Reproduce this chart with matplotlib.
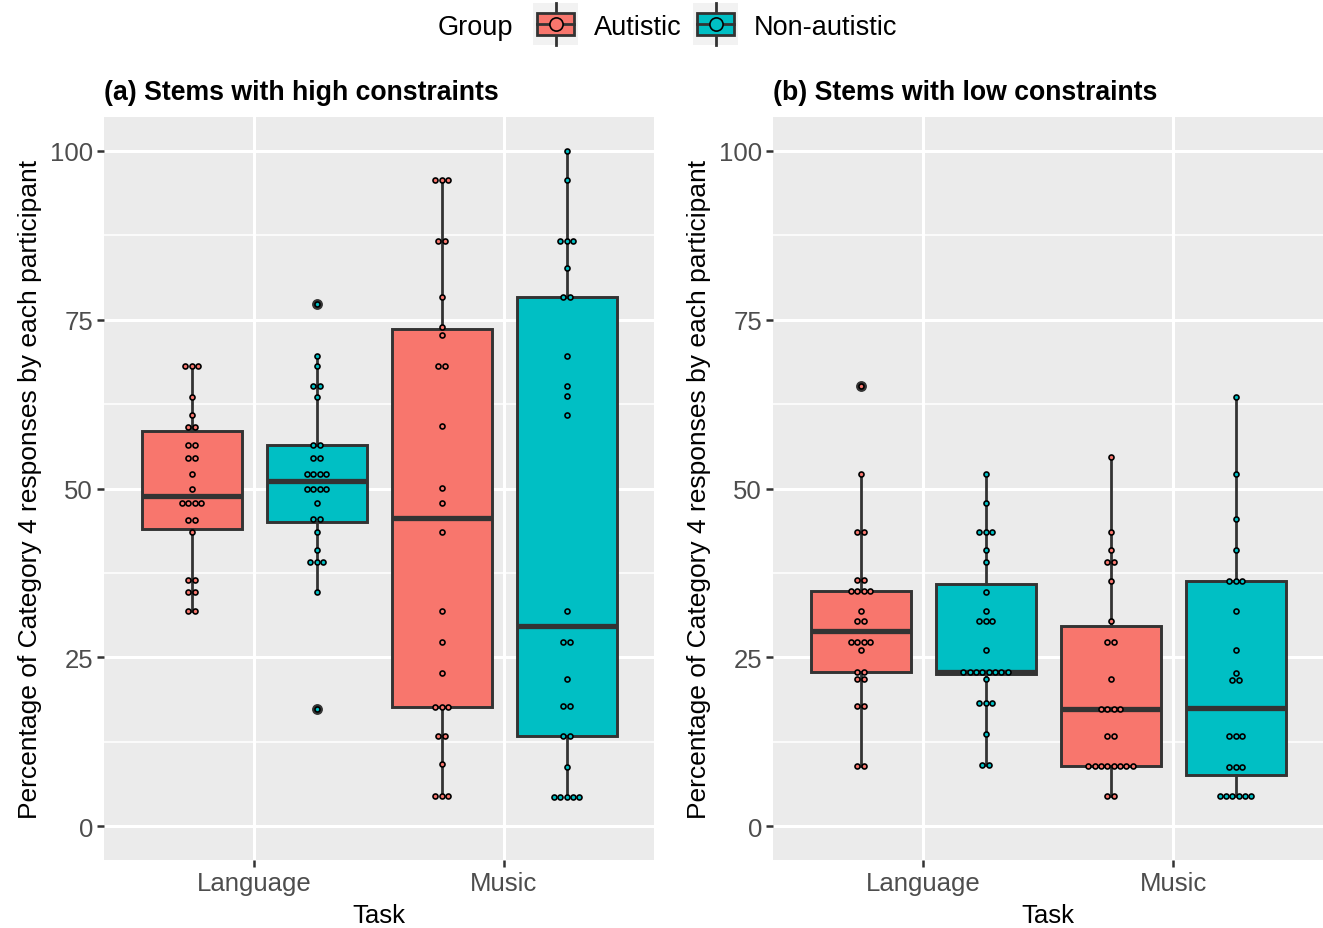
import numpy as np
import matplotlib
matplotlib.use("Agg")
import matplotlib.pyplot as plt
from matplotlib.patches import Rectangle

plt.rcParams["font.family"] = ["Liberation Sans", "DejaVu Sans"]

tasks = ["Language", "Music"]
groups = ["Autistic", "Non-autistic"]
group_colors = ["#F8766D", "#00BFC4"]
panel_titles = ["(a) Stems with high constraints", "(b) Stems with low constraints"]
y_label = "Percentage of Category 4 responses by each participant"

# per-participant percentages
high_lang_aut = [68.2, 68.2, 68.2, 63.6, 60.9, 59.1, 59.1, 56.5, 56.5, 54.5, 54.5, 52.2, 50.0,
                 47.9, 47.9, 47.9, 47.9, 45.4, 45.4, 43.5, 36.4, 36.4, 34.7, 34.7, 31.8, 31.8]
high_lang_non = [77.3, 69.6, 68.1, 65.2, 65.2, 63.6, 56.5, 56.5, 54.5, 54.5, 52.2, 52.2, 52.2, 52.2,
                 50.0, 50.0, 50.0, 50.0, 47.8, 45.5, 45.5, 43.5, 40.9, 39.1, 39.1, 39.1, 34.7, 17.4]
high_mus_aut = [95.6, 95.6, 95.6, 86.6, 86.6, 78.3, 73.9, 72.7, 68.2, 68.2, 59.2, 50.1, 47.9,
                43.5, 31.8, 27.3, 22.7, 17.6, 17.6, 17.6, 13.4, 13.4, 9.2, 4.5, 4.5, 4.5]
high_mus_non = [100.0, 95.7, 86.7, 86.7, 86.7, 82.6, 78.3, 78.3, 69.6, 65.2, 63.7, 60.9, 31.9,
                27.3, 27.3, 21.8, 17.8, 17.8, 13.3, 13.3, 8.7, 4.4, 4.4, 4.4, 4.4, 4.4]

low_lang_aut = [65.2, 52.2, 43.5, 43.5, 36.4, 36.4, 34.8, 34.8, 34.8, 34.8, 31.9, 30.4, 30.4,
                27.3, 27.3, 27.3, 27.3, 26.1, 22.8, 22.8, 21.8, 21.8, 17.8, 17.8, 8.9, 8.9]
low_lang_non = [52.2, 47.9, 43.5, 43.5, 43.5, 40.9, 39.1, 34.7, 31.9, 30.4, 30.4, 30.4, 26.1,
                22.8, 22.8, 22.8, 22.8, 22.8, 22.8, 22.8, 22.8, 21.8, 18.2, 18.2, 18.2, 13.6, 9.1, 9.1]
low_mus_aut = [54.6, 43.5, 40.9, 39.1, 39.1, 36.3, 30.4, 27.3, 27.3, 21.8, 17.4, 17.4, 17.4,
               17.4, 13.4, 13.4, 8.9, 8.9, 8.9, 8.9, 8.9, 8.9, 8.9, 8.9, 4.5, 4.5]
low_mus_non = [63.6, 52.1, 45.5, 40.9, 36.3, 36.3, 36.3, 31.9, 26.1, 22.7, 21.7, 21.7,
               13.3, 13.3, 13.3, 8.7, 8.7, 8.7, 4.5, 4.5, 4.5, 4.5, 4.5, 4.5]

panel_data = [
    {"Language": [high_lang_aut, high_lang_non], "Music": [high_mus_aut, high_mus_non]},
    {"Language": [low_lang_aut, low_lang_non], "Music": [low_mus_aut, low_mus_non]},
]

W, H = 1323, 929
fig = plt.figure(figsize=(W / 100, H / 100), dpi=100)


def px_axes(l, t, r, b, **kw):
    return fig.add_axes([l / W, 1 - b / H, (r - l) / W, (b - t) / H], **kw)


EDGE = "#333333"
DOT_D = 0.0255   # dot diameter in x data units (250 px per category)
FS = 18.5

panels = [px_axes(104, 118, 654, 861), px_axes(773, 118, 1323, 861)]

for ax, title, data in zip(panels, panel_titles, panel_data):
    ax.set_facecolor("#EBEBEB")
    for ti, task in enumerate(tasks):
        for gi, vals in enumerate(data[task]):
            pos = ti + 1 + (gi - 0.5) * 0.5
            ax.boxplot([vals], positions=[pos], widths=0.4, patch_artist=True,
                       showcaps=False, whis=1.5, manage_ticks=False, zorder=3,
                       boxprops=dict(facecolor=group_colors[gi], edgecolor=EDGE, linewidth=2.1),
                       medianprops=dict(color=EDGE, linewidth=3.8, solid_capstyle="butt"),
                       whiskerprops=dict(color=EDGE, linewidth=2.0),
                       flierprops=dict(marker="o", markerfacecolor=EDGE, markeredgecolor=EDGE,
                                       markersize=6.8))
            # centred dot stacks (geom_dotplot style)
            uniq, counts = np.unique(vals, return_counts=True)
            xs, ys = [], []
            for v, c in zip(uniq, counts):
                for k in range(c):
                    xs.append(pos + (k - (c - 1) / 2) * DOT_D)
                    ys.append(v)
            ax.plot(xs, ys, "o", ls="none", ms=3.6, mfc=group_colors[gi], mec="black",
                    mew=1.2, zorder=5)

    ax.set_xlim(0.4, 2.6)
    ax.set_ylim(-5, 105)
    ax.set_xticks([1, 2])
    ax.set_xticklabels(tasks)
    ax.set_yticks([0, 25, 50, 75, 100])
    ax.set_yticks([12.5, 37.5, 62.5, 87.5], minor=True)
    ax.set_axisbelow(True)
    ax.grid(which="major", color="white", linewidth=2.2)
    ax.grid(which="minor", axis="y", color="white", linewidth=1.1)
    for s in ax.spines.values():
        s.set_visible(False)
    ax.tick_params(which="major", length=5, width=1.8, color=EDGE, labelsize=FS,
                   labelcolor="#4D4D4D", pad=3)
    ax.tick_params(which="minor", length=0)
    ax.set_xlabel("Task", fontsize=FS, labelpad=6)
    ax.set_ylabel(y_label, fontsize=19)
    ax.yaxis.set_label_coords(-0.112, 0.5)
    ax.set_title(title, loc="left", fontsize=19.2, fontweight="bold", pad=13)

# legend drawn in pixel coordinates across the top
lg = fig.add_axes([0, 0, 1, 1], zorder=10)
lg.set_xlim(0, W)
lg.set_ylim(H, 0)
lg.axis("off")
lg.text(438, 28, "Group", fontsize=19.5, ha="left", va="center")
key_x = [533, 693]
label_x = [594, 754]
for gi, grp in enumerate(groups):
    x0 = key_x[gi]
    xc = x0 + 22.5
    lg.add_patch(Rectangle((x0, 4), 45, 42, facecolor="#F2F2F2", edgecolor="none"))
    lg.plot([xc, xc], [4, 46], color=EDGE, lw=2.0)
    lg.add_patch(Rectangle((x0 + 4, 14), 37, 22, facecolor=group_colors[gi],
                           edgecolor=EDGE, linewidth=2.0, zorder=3))
    lg.plot([x0 + 4, x0 + 41], [25, 25], color=EDGE, lw=2.0, zorder=4)
    lg.plot([xc], [25], "o", ms=9.5, mfc=group_colors[gi], mec="black", mew=1.2, zorder=5)
    lg.text(label_x[gi], 28, grp, fontsize=19.5, ha="left", va="center")

fig.savefig("out.png", dpi=100, facecolor="white")
